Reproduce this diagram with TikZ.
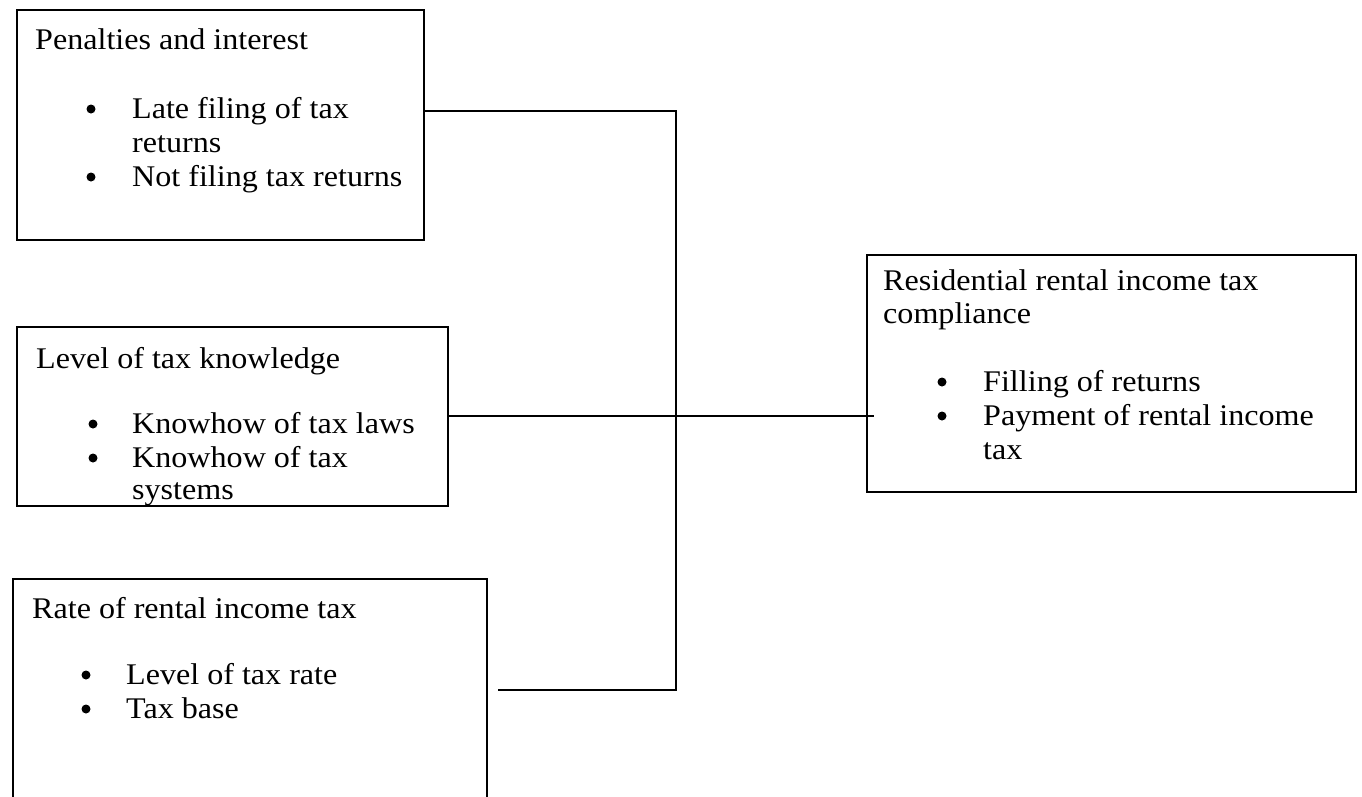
\documentclass[tikz,border=0pt]{standalone}
\usepackage{fontspec}
\setmainfont{Liberation Serif}[FakeStretch=1.07]
\tikzset{
  box/.style={draw, rectangle, line width=1.8pt, inner sep=0pt, anchor=north west},
  txt/.style={anchor=base west, inner sep=0pt, font=\fontsize{30}{34}\selectfont},
  bul/.style={circle, fill, inner sep=0pt, minimum size=9pt},
  link/.style={line width=1.6pt}
}
\begin{document}
\begin{tikzpicture}[x=1pt,y=-1pt]
\useasboundingbox (0,0) rectangle (1362,796);
% boxes
\node[box, minimum width=407pt, minimum height=230pt] (b1) at (16,9) {};
\node[box, minimum width=431pt, minimum height=179pt] (b2) at (16,326) {};
\node[box, minimum width=474pt, minimum height=240pt] (b3) at (12,578) {};
\node[box, minimum width=489pt, minimum height=237pt] (b4) at (866,254) {};
% box 1 text
\node[txt] (t1) at (35,49) {Penalties and interest};
\node[bul] (p1a) at (91,109) {};
\node[txt] (t1a) at (132,118) {Late filing of tax};
\node[txt] (t1b) at (132,152) {returns};
\node[bul] (p1c) at (91,177) {};
\node[txt] (t1c) at (132,186) {Not filing tax returns};
% box 2 text
\node[txt] (t2) at (36,368) {Level of tax knowledge};
\node[bul] (p2a) at (93,424) {};
\node[txt] (t2a) at (132,433) {Knowhow of tax laws};
\node[bul] (p2b) at (93,458) {};
\node[txt] (t2b) at (132,467) {Knowhow of tax};
\node[txt] (t2c) at (132,499) {systems};
% box 3 text
\node[txt] (t3) at (32,618) {Rate of rental income tax};
\node[bul] (p3a) at (86,675) {};
\node[txt] (t3a) at (126,684) {Level of tax rate};
\node[bul] (p3b) at (86,709) {};
\node[txt] (t3b) at (126,718) {Tax base};
% box 4 text
\node[txt] (t4) at (883,290) {Residential rental income tax};
\node[txt] (t4b) at (883,323) {compliance};
\node[bul] (p4a) at (942,382) {};
\node[txt] (t4c) at (983,391) {Filling of returns};
\node[bul] (p4b) at (942,416) {};
\node[txt] (t4d) at (983,425) {Payment of rental income};
\node[txt] (t4e) at (983,459) {tax};
% connectors
\coordinate (jt) at (676,111);
\coordinate (jb) at (676,690);
\coordinate (jm) at (676,416);
\draw[link] (b1.east |- jt) -- (jt) -- (jb) -- ([xshift=10pt]b3.east |- jb);
\draw[link] (b2.east |- jm) -- ([xshift=8pt]b4.west |- jm);
\end{tikzpicture}
\end{document}
